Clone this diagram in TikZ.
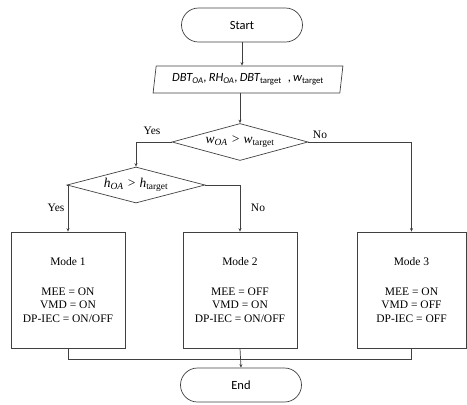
\documentclass[tikz,border=0pt]{standalone}
\usepackage{fontspec}
\setmainfont{Liberation Serif}
\newfontfamily\calibri{Carlito}
\usetikzlibrary{shapes.geometric,arrows.meta}
\begin{document}
\begin{tikzpicture}[x=1pt,y=-1pt,
  every node/.style={font=\fontsize{11.5}{13.5}\selectfont},
  line/.style={draw=black!75, line width=0.7pt},
  arr/.style={line, -{Stealth[length=3.5pt,width=3pt]}},
  term/.style={line, rectangle, rounded corners=17pt, minimum width=121pt, minimum height=34pt, font=\calibri\fontsize{12.5}{14}\selectfont},
  io/.style={line, trapezium, trapezium left angle=79, trapezium right angle=101, trapezium stretches=true, minimum width=190pt, minimum height=27pt, inner sep=1pt},
  decision/.style={line, diamond, aspect=3.7, inner sep=0pt},
  modebox/.style={line, rectangle, minimum height=116pt, align=center},
  lbl/.style={font=\fontsize{11.5}{13.5}\selectfont}
]
\useasboundingbox (0,0) rectangle (467,405);
\node[term] (start) at (242,25) {Start};
\node[io] (input) at (248,79.5) {\calibri\itshape\fontsize{12.5}{14}\selectfont DBT\textsubscript{OA},\,RH\textsubscript{OA},\,DBT\textsubscript{\upshape target}\enspace,\,w\textsubscript{\upshape target}};
\node[decision, minimum width=136pt, minimum height=37pt] (d1) at (240,142) {\fontsize{13.5}{15}\selectfont\itshape w\textsubscript{OA} > w\textsubscript{\upshape target}};
\node[decision, minimum width=138pt, minimum height=36pt] (d2) at (136,185) {\fontsize{13.5}{15}\selectfont\itshape h\textsubscript{OA} > h\textsubscript{\upshape target}};
\node[modebox, minimum width=114pt] (m1) at (68,290) {Mode 1\\[16.5pt]MEE = ON\\VMD = ON\\DP-IEC = ON/OFF};
\node[modebox, minimum width=114pt] (m2) at (240,290) {Mode 2\\[16.5pt]MEE = OFF\\VMD = ON\\DP-IEC = ON/OFF};
\node[modebox, minimum width=109pt] (m3) at (411.5,290) {Mode 3\\[16.5pt]MEE = ON\\VMD = OFF\\DP-IEC = OFF};
\node[term] (end) at (241,385) {End};
\coordinate (j) at (240,359);
% connectors
\draw[arr] (start.south) -- (start.south |- input.north);
\draw[arr] (d1.north |- input.south) -- (d1.north);
\draw[arr] (d1.west) -| (d2.north);
\draw[arr] (d1.east) -| (m3.north);
\draw[arr] (d2.west) -| (m1.north);
\draw[arr] (d2.east) -| (m2.north);
\draw[line] (m1.south) |- (j);
\draw[line] (m3.south) |- (j);
\draw[arr] (m2.south) -- (end.north);
% labels
\node[lbl] (y1) at (152,131) {Yes};
\node[lbl] (n1) at (320,135) {No};
\node[lbl] (y2) at (56,208) {Yes};
\node[lbl] (n2) at (258,208) {No};
\end{tikzpicture}
\end{document}
